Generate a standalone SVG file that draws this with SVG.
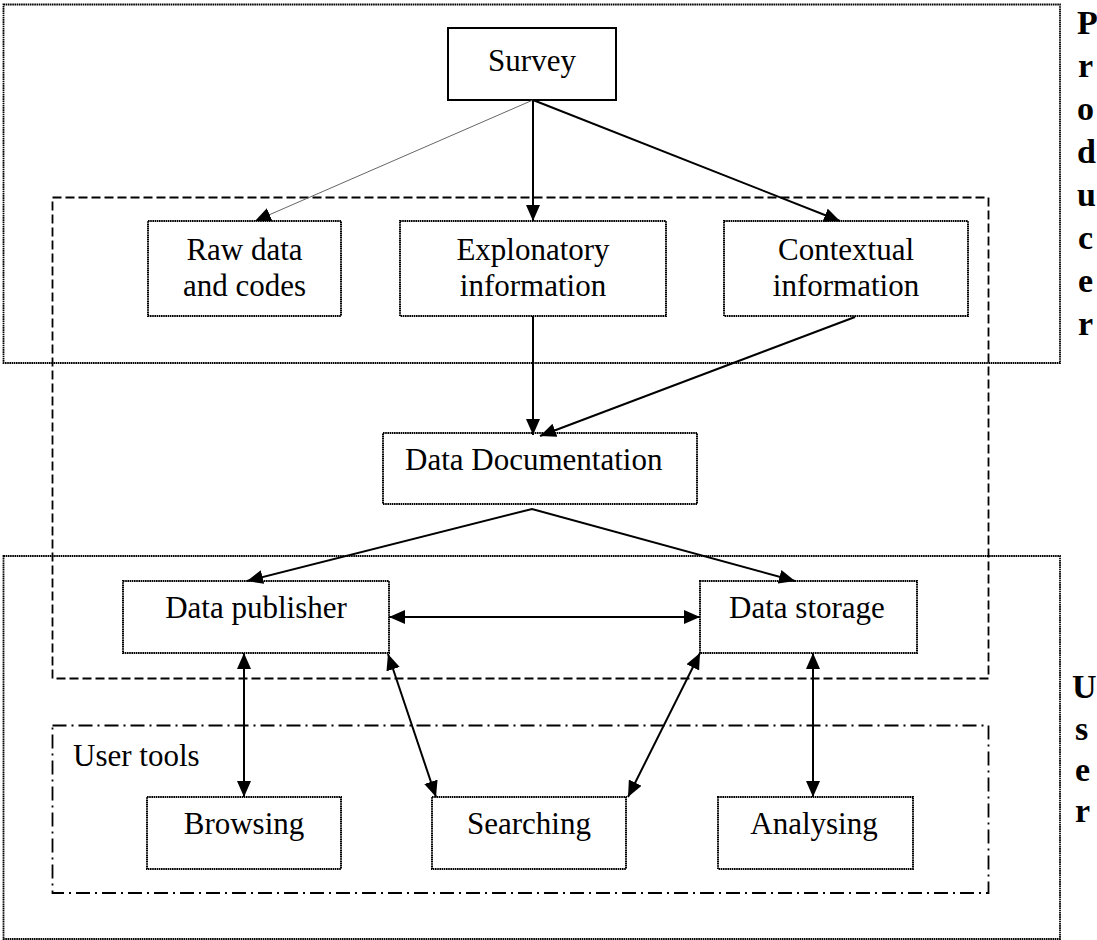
<svg xmlns="http://www.w3.org/2000/svg" width="1097" height="940" viewBox="0 0 1097 940">
<style>
  .lbl{font-family:"Liberation Serif","Times New Roman",serif;font-size:31px;fill:#000}
  .big{font-family:"Liberation Serif","Times New Roman",serif;font-size:34px;font-weight:bold;fill:#000}
  .node{fill:#fff;stroke:#000;stroke-width:2;stroke-dasharray:1.6 0.6}
  .solid{fill:#fff;stroke:#000;stroke-width:2}
  .region{fill:none;stroke:#000;stroke-width:1.8;stroke-dasharray:1.6 0.6}
  .dash{fill:none;stroke:#000;stroke-width:1.8;stroke-dasharray:9 4}
  .dashdot{fill:none;stroke:#000;stroke-width:1.8;stroke-dasharray:14 5 2 5}
  .conn{fill:none;stroke:#000;stroke-width:2}
</style>
<defs>
  <marker id="ah" viewBox="0 0 16 14" refX="16" refY="7" markerWidth="16" markerHeight="14" markerUnits="userSpaceOnUse" orient="auto-start-reverse">
    <path d="M0,0 L16,7 L0,14 Z" fill="#000"/>
  </marker>
</defs>
<rect width="1097" height="940" fill="#fff"/>

<g id="regions">
  <rect id="producer-region" class="region" x="3.5" y="4.5" width="1056.5" height="358.5"/>
  <rect id="user-region" class="region" x="3.5" y="556" width="1056.5" height="383"/>
  <rect id="documentation-region" class="dash" x="52.5" y="197.5" width="936" height="481"/>
  <rect id="user-tools-region" class="dashdot" x="52.5" y="725.5" width="936" height="167.5"/>
  <text class="lbl" x="73" y="766">User tools</text>
  <g id="producer-label">
    <text class="big" x="1077" y="34">P</text>
    <text class="big" x="1078" y="77">r</text>
    <text class="big" x="1077" y="120">o</text>
    <text class="big" x="1077" y="163">d</text>
    <text class="big" x="1077" y="206">u</text>
    <text class="big" x="1078" y="249">c</text>
    <text class="big" x="1078" y="292">e</text>
    <text class="big" x="1078" y="335">r</text>
  </g>
  <g id="user-label">
    <text class="big" x="1072" y="698">U</text>
    <text class="big" x="1075" y="740">s</text>
    <text class="big" x="1075" y="781">e</text>
    <text class="big" x="1075" y="822">r</text>
  </g>
</g>

<g id="survey">
  <rect class="solid" x="448" y="28" width="168" height="72"/>
  <text class="lbl" x="532" y="71" text-anchor="middle">Survey</text>
</g>
<g id="raw-data">
  <rect class="node" x="148" y="221" width="193" height="95"/>
  <text class="lbl" x="244.5" y="260" text-anchor="middle">Raw data</text>
  <text class="lbl" x="244.5" y="296" text-anchor="middle">and codes</text>
</g>
<g id="explanatory">
  <rect class="node" x="400" y="221" width="266" height="95"/>
  <text class="lbl" x="533" y="260" text-anchor="middle">Explonatory</text>
  <text class="lbl" x="533" y="296" text-anchor="middle">information</text>
</g>
<g id="contextual">
  <rect class="node" x="724" y="221" width="244" height="95"/>
  <text class="lbl" x="846" y="260" text-anchor="middle">Contextual</text>
  <text class="lbl" x="846" y="296" text-anchor="middle">information</text>
</g>
<g id="data-documentation">
  <rect class="node" x="383" y="433" width="314" height="71"/>
  <text class="lbl" x="405" y="470">Data Documentation</text>
</g>
<g id="data-publisher">
  <rect class="node" x="123" y="581" width="266" height="72"/>
  <text class="lbl" x="256" y="618" text-anchor="middle">Data publisher</text>
</g>
<g id="data-storage">
  <rect class="node" x="700" y="581" width="217" height="72"/>
  <text class="lbl" x="807" y="618" text-anchor="middle">Data storage</text>
</g>
<g id="browsing">
  <rect class="node" x="147" y="797" width="194" height="72"/>
  <text class="lbl" x="244" y="834" text-anchor="middle">Browsing</text>
</g>
<g id="searching">
  <rect class="node" x="432" y="797" width="194" height="72"/>
  <text class="lbl" x="529" y="834" text-anchor="middle">Searching</text>
</g>
<g id="analysing">
  <rect class="node" x="718" y="797" width="195" height="72"/>
  <text class="lbl" x="814" y="834" text-anchor="middle">Analysing</text>
</g>

<g id="connectors">
  <line x1="533" y1="100" x2="255" y2="221" stroke="#666" stroke-width="1" marker-end="url(#ah)"/>
  <line class="conn" x1="533" y1="100" x2="533" y2="221" marker-end="url(#ah)"/>
  <line class="conn" x1="533" y1="100" x2="840" y2="221" marker-end="url(#ah)"/>
  <line class="conn" x1="533" y1="316" x2="533" y2="435" marker-end="url(#ah)"/>
  <line class="conn" x1="855" y1="317" x2="540" y2="436" stroke-width="2.5" marker-end="url(#ah)"/>
  <polyline class="conn" points="247,581 532,509 795,581" marker-start="url(#ah)" marker-end="url(#ah)"/>
  <line class="conn" x1="389" y1="617" x2="700" y2="617" marker-start="url(#ah)" marker-end="url(#ah)"/>
  <line class="conn" x1="244" y1="653" x2="244" y2="797" marker-start="url(#ah)" marker-end="url(#ah)"/>
  <line class="conn" x1="388" y1="654" x2="436" y2="797" marker-start="url(#ah)" marker-end="url(#ah)"/>
  <line class="conn" x1="700" y1="653" x2="628" y2="797" stroke-width="2.5" marker-start="url(#ah)" marker-end="url(#ah)"/>
  <line class="conn" x1="813" y1="653" x2="813" y2="797" marker-start="url(#ah)" marker-end="url(#ah)"/>
</g>
</svg>
